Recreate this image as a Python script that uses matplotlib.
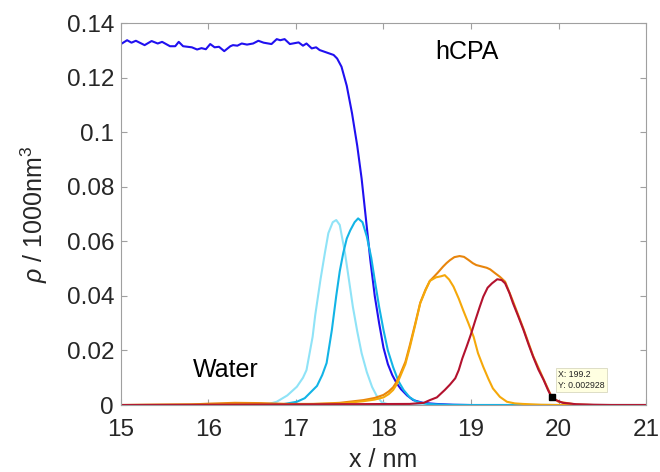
import matplotlib
matplotlib.use("Agg")
import matplotlib.pyplot as plt
from matplotlib.ticker import FuncFormatter

plt.rcParams['font.family'] = ['Liberation Sans', 'DejaVu Sans']
plt.rcParams['mathtext.fontset'] = 'custom'
plt.rcParams['mathtext.rm'] = 'Liberation Sans'
plt.rcParams['mathtext.it'] = 'Liberation Sans:italic'

# hCPA density profile
x_hcpa = [15.0, 15.07, 15.12, 15.17, 15.27, 15.35, 15.42, 15.47, 15.56, 15.62, 15.66,
          15.71, 15.81, 15.87, 15.92, 15.97, 16.02, 16.07, 16.12, 16.18, 16.25, 16.28,
          16.33, 16.38, 16.44, 16.51, 16.57, 16.63, 16.72, 16.78, 16.82, 16.87, 16.93,
          17.03, 17.08, 17.12, 17.18, 17.23, 17.27, 17.35, 17.43, 17.47, 17.52, 17.58,
          17.64, 17.70, 17.75, 17.80, 17.85, 17.90, 17.95, 18.00, 18.05, 18.10, 18.15,
          18.20, 18.27, 18.34, 18.45, 18.60, 18.80, 19.0, 21.0]
y_hcpa = [0.1323, 0.1337, 0.1328, 0.1335, 0.1319, 0.1334, 0.1325, 0.1331, 0.1315, 0.1315, 0.1331,
          0.1315, 0.1311, 0.1303, 0.1308, 0.1304, 0.1323, 0.1311, 0.1313, 0.1297, 0.1315, 0.1319,
          0.1317, 0.1325, 0.1321, 0.1325, 0.1335, 0.1328, 0.1323, 0.1341, 0.1337, 0.1341, 0.1323,
          0.1329, 0.1317, 0.1325, 0.1307, 0.1311, 0.1301, 0.1292, 0.1283, 0.1270, 0.124, 0.117,
          0.107, 0.095, 0.083, 0.068, 0.053, 0.040, 0.030, 0.021, 0.015, 0.011, 0.008,
          0.0058, 0.0035, 0.0018, 0.0008, 0.0004, 0.0001, 0.0, 0.0]

# interface water layers
x_w1 = [15.0, 16.5, 16.7, 16.78, 16.9, 17.01, 17.08, 17.12, 17.19, 17.22, 17.28, 17.33,
        17.37, 17.42, 17.46, 17.50, 17.56, 17.60, 17.65, 17.70, 17.75, 17.81, 17.87,
        17.92, 17.98, 18.05, 18.2, 21.0]
y_w1 = [0.0, 0.0, 0.0005, 0.0012, 0.0035, 0.0067, 0.010, 0.0128, 0.0250, 0.0330, 0.046, 0.0557,
        0.063, 0.067, 0.0678, 0.066, 0.0557, 0.047, 0.036, 0.027, 0.019, 0.012, 0.0066,
        0.0035, 0.001, 0.0003, 0.0, 0.0]

x_w2 = [15.0, 16.8, 17.01, 17.1, 17.24, 17.30, 17.35, 17.41, 17.46, 17.50, 17.54, 17.58,
        17.62, 17.67, 17.71, 17.76, 17.81, 17.86, 17.90, 17.95, 18.0, 18.05, 18.11, 18.17,
        18.23, 18.30, 18.38, 18.5, 18.7, 19.0, 21.0]
y_w2 = [0.0, 0.0, 0.0012, 0.0025, 0.007, 0.011, 0.0154, 0.0275, 0.040, 0.049, 0.0557, 0.061,
        0.064, 0.067, 0.0684, 0.067, 0.0617, 0.054, 0.0458, 0.036, 0.0275, 0.020, 0.0139, 0.0088,
        0.0055, 0.0028, 0.0012, 0.0004, 0.0001, 0.0, 0.0]

# ion layers
x_ions = [15.0, 15.8, 16.0, 16.3, 16.6, 16.9, 17.2, 17.5, 17.77, 17.9, 18.0, 18.06, 18.11,
          18.15, 18.19, 18.25, 18.30, 18.36, 18.42, 18.48, 18.53, 18.57, 18.62, 18.68,
          18.72, 18.76, 18.81, 18.87, 18.92, 18.97, 19.02, 19.06, 19.12, 19.18, 19.22,
          19.28, 19.33, 19.39, 19.48, 19.60, 19.71, 19.83, 19.92, 20.0, 20.2, 20.4, 21.0]
y_ions = [0.0, 0.0002, 0.0005, 0.0008, 0.0007, 0.0004, 0.0004, 0.0008, 0.0018, 0.0026, 0.0037,
          0.005, 0.0065, 0.0085, 0.0112, 0.0158, 0.0218, 0.0295, 0.0375, 0.0423, 0.0455,
          0.0468, 0.0485, 0.0507, 0.052, 0.0531, 0.0542, 0.0546, 0.0543, 0.0532, 0.052,
          0.0513, 0.0508, 0.0503, 0.0497, 0.0482, 0.047, 0.0452, 0.038, 0.0279, 0.018,
          0.0094, 0.0031, 0.0012, 0.0002, 0.0, 0.0]

x_cat = [15.0, 16.0, 16.5, 17.0, 17.5, 17.77, 17.9, 18.0, 18.06, 18.11, 18.15, 18.19, 18.25,
         18.30, 18.36, 18.42, 18.48, 18.53, 18.60, 18.66, 18.70, 18.75, 18.80, 18.86, 18.91,
         18.97, 19.03, 19.08, 19.14, 19.20, 19.25, 19.33, 19.41, 19.5, 19.59, 19.8, 20.0, 21.0]
y_cat = [0.0, 0.0002, 0.0003, 0.0003, 0.0005, 0.0014, 0.002, 0.0028, 0.004, 0.0055, 0.0075,
         0.0104, 0.015, 0.021, 0.029, 0.0373, 0.042, 0.0455, 0.0468, 0.0472, 0.0476, 0.046,
         0.0434, 0.039, 0.0348, 0.030, 0.025, 0.019, 0.014, 0.0095, 0.0061, 0.003, 0.0012,
         0.0006, 0.0004, 0.0001, 0.0, 0.0]

x_an = [15.0, 18.3, 18.46, 18.53, 18.61, 18.66, 18.70, 18.76, 18.82, 18.86, 18.90, 18.95,
        19.0, 19.05, 19.10, 19.14, 19.19, 19.24, 19.30, 19.35, 19.39, 19.44, 19.48, 19.54,
        19.60, 19.66, 19.71, 19.77, 19.83, 19.88, 19.92, 19.97, 20.05, 20.2, 20.4, 20.6, 21.0]
y_an = [0.0, 0.0004, 0.0008, 0.0018, 0.0028, 0.0043, 0.0055, 0.0075, 0.0098, 0.0128, 0.017,
        0.0214, 0.026, 0.0311, 0.036, 0.0397, 0.043, 0.0446, 0.0461, 0.0458, 0.0446, 0.041,
        0.0373, 0.0325, 0.0275, 0.022, 0.0177, 0.013, 0.0092, 0.0055, 0.002928, 0.0018,
        0.0008, 0.0003, 0.0001, 0.0, 0.0]

tip_x = 19.92
tip_y = 0.002928

fig = plt.figure(figsize=(6.6, 4.72), dpi=100)
ax = fig.add_axes([0.1833, 0.1419, 0.7955, 0.8093])

lw = 1.5
ax.plot(x_hcpa, y_hcpa, color='#2010f0', lw=lw)
ax.plot(x_w1, y_w1, color='#8fe3f7', lw=lw)
ax.plot(x_w2, y_w2, color='#12b4e6', lw=lw)
ax.plot(x_ions, y_ions, color='#e8850c', lw=lw)
ax.plot(x_cat, y_cat, color='#f5a80a', lw=lw)
ax.plot(x_an, y_an, color='#b3122e', lw=lw)

ax.plot([tip_x], [tip_y], 's', color='black', ms=5, zorder=5)
ax.annotate('X: %.1f\nY: %g' % (tip_x * 10, tip_y), xy=(tip_x, tip_y),
            xytext=(5, 5), textcoords='offset points', fontsize=6.3, ha='left', va='bottom',
            linespacing=1.3, color='#222222',
            bbox=dict(boxstyle='square,pad=0.25', fc='#ffffe1', ec='#d8d8c0', lw=0.6))

ax.text(18.95, 0.1293, 'hCPA', fontsize=18, ha='center', va='center')
ax.text(16.2, 0.0128, 'Water', fontsize=18, ha='center', va='center')

ax.set_xlim(15, 21)
ax.set_ylim(0, 0.14)
ax.set_xticks([15, 16, 17, 18, 19, 20, 21])
ax.set_yticks([0, 0.02, 0.04, 0.06, 0.08, 0.1, 0.12, 0.14])
ax.yaxis.set_major_formatter(FuncFormatter(lambda v, p: '%g' % round(v, 4)))

for s in ax.spines.values():
    s.set_color('#a0a0a0')
    s.set_linewidth(0.8)
ax.tick_params(direction='in', length=4, width=0.8, color='#a0a0a0', top=True, right=True,
               labelsize=17.5, labelcolor='#262626')
ax.tick_params(axis='x', pad=10)
ax.tick_params(axis='y', pad=5)

ax.set_xlabel('x / nm', fontsize=18, color='#262626', labelpad=5)
ax.set_ylabel(r'$\rho$ / 1000nm$^3$', fontsize=18, color='#262626', labelpad=12)

fig.savefig('out.png', dpi=100)
